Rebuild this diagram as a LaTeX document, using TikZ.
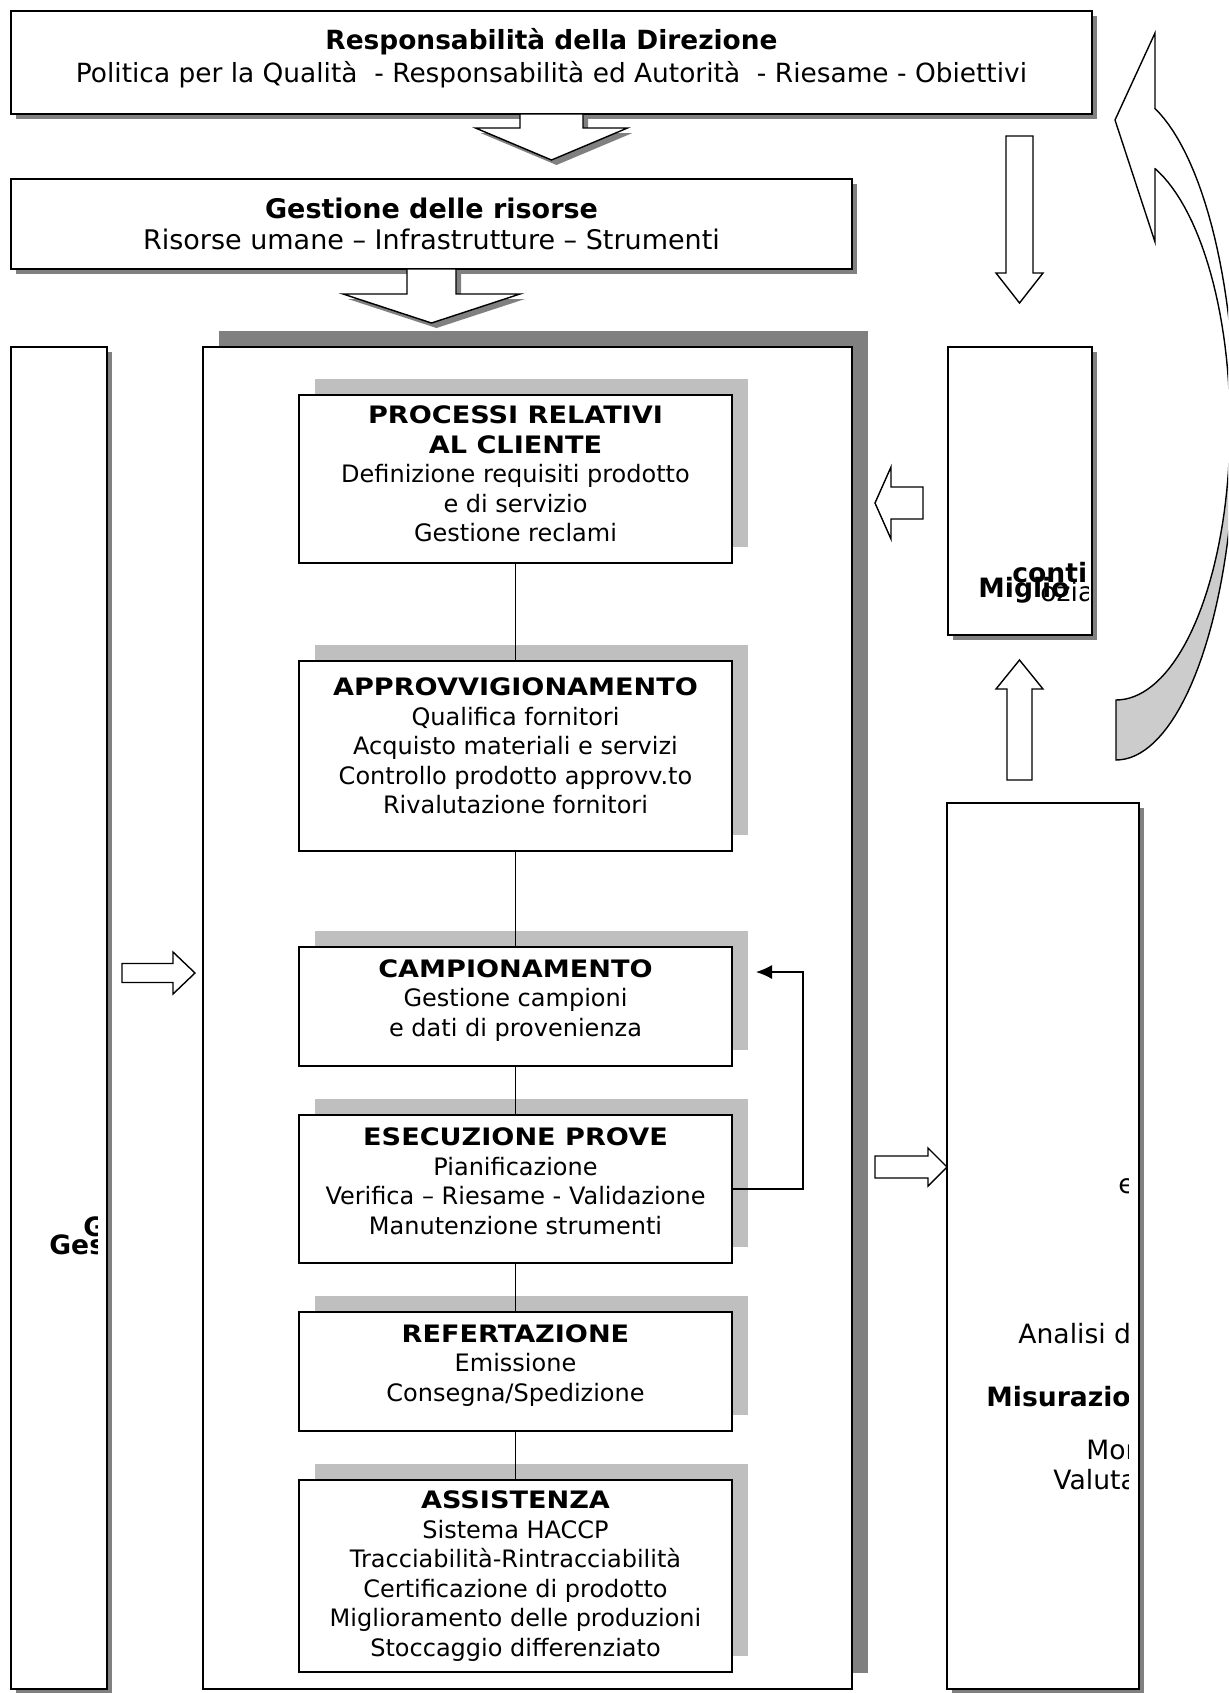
\documentclass[tikz,border=0pt]{standalone}
\usepackage{fontspec}
\setmainfont{DejaVu Sans}[BoldFeatures={FakeStretch=1.13}]
\newfontfamily\sidefont{DejaVu Sans}
\usetikzlibrary{positioning,shadows,arrows.meta}

\tikzset{
  boxshadow/.style={drop shadow={shadow xshift=2.5pt, shadow yshift=-2.5pt, fill=black!50, opacity=1}},
  outerbox/.style={draw, line width=1pt, fill=white, boxshadow, inner sep=0pt, outer sep=0pt},
  procbox/.style={draw, line width=1pt, fill=white, inner sep=0pt, outer sep=0pt,
    minimum width=216.5pt,
    drop shadow={shadow xshift=8pt, shadow yshift=8pt, fill=black!25, opacity=1}},
  boxtext/.style={align=center, inner sep=0pt},
  fatarrow/.style={draw, line width=0.7pt, fill=white},
  cliptext/.style={inner sep=0pt, anchor=west, font={\sidefont\fontsize{13.3}{16}\selectfont}}
}

% hollow block arrow: [style]{start}{rotation}{length}{shaft half width}{head half width}{head length}
\newcommand{\blockarrow}[7][]{%
  \draw[#1, shift={(#2)}, rotate=#3] (-#5,0) -- (-#5,{#4-#7}) -- (-#6,{#4-#7}) -- (0,#4)
    -- (#6,{#4-#7}) -- (#5,{#4-#7}) -- (#5,0) -- cycle;}

\begin{document}
\begin{tikzpicture}[
    x=0.5pt, y=-0.5pt,
    node distance=24.5pt,
    >={Latex[length=8pt,width=7pt]},
    font={\fontsize{12}{14.75}\selectfont}
    ]
\useasboundingbox (0,0) rectangle (1228,1693);

% direzione e risorse
\node[outerbox, minimum width=540.5pt, minimum height=51.5pt] (dir) at (551.5,62.5) {};
\node[boxtext, font={\sidefont\fontsize{13.2}{16.2}\selectfont}] (dirt) at ([yshift=2.2pt]dir.center)
  {\textbf{Responsabilità della Direzione}\\
   Politica per la Qualità\ \ - Responsabilità ed Autorità\ \ - Riesame - Obiettivi};
\node[outerbox, minimum width=420.5pt, minimum height=45pt] (risorse) at (431.5,224) {};
\node[boxtext, font={\sidefont\fontsize{13.5}{15.7}\selectfont}] (risorset) at (risorse.center)
  {\textbf{Gestione delle risorse}\\Risorse umane – Infrastrutture – Strumenti};

% colonne
\node[draw, line width=1pt, fill=white, outer sep=0pt, minimum width=324.5pt, minimum height=671pt,
  drop shadow={shadow xshift=8pt, shadow yshift=8pt, fill=black!50, opacity=1}] (main) at (527.5,1018) {};
\node[outerbox, minimum width=48pt, minimum height=671pt] (gest) at (59,1018) {};
\node[outerbox, minimum width=72pt, minimum height=144pt] (migl) at (1020,491) {};
\node[outerbox, minimum width=96pt, minimum height=443pt] (misur) at (1043,1246) {};

% processi
\node[procbox, minimum height=84pt] (proc) at (515.5,479) {};
\node[procbox, minimum height=95pt, below=49pt of proc] (appr) {};
\node[procbox, minimum height=59.5pt, below=48pt of appr] (camp) {};
\node[procbox, minimum height=74pt, below=of camp] (esec) {};
\node[procbox, minimum height=59.5pt, below=of esec] (ref) {};
\node[procbox, minimum height=96pt, below=of ref] (ass) {};

\node[boxtext] (proct) at ([yshift=2.5pt]proc.center)
  {\textbf{PROCESSI RELATIVI}\\\textbf{AL CLIENTE}\\Definizione requisiti prodotto\\e di servizio\\Gestione reclami};
\node[boxtext] (apprt) at ([yshift=5pt]appr.center)
  {\textbf{APPROVVIGIONAMENTO}\\Qualifica fornitori\\Acquisto materiali e servizi\\Controllo prodotto approvv.to\\Rivalutazione fornitori};
\node[boxtext] (campt) at ([yshift=3.2pt]camp.center)
  {\textbf{CAMPIONAMENTO}\\Gestione campioni\\e dati di provenienza};
\node[boxtext] (esect) at ([yshift=4pt]esec.center)
  {\textbf{ESECUZIONE PROVE}\\Pianificazione\\Verifica – Riesame - Validazione\\Manutenzione strumenti};
\node[boxtext] (reft) at ([yshift=3pt]ref.center)
  {\textbf{REFERTAZIONE}\\Emissione\\Consegna/Spedizione};
\node[boxtext] (asst) at (ass.center)
  {\textbf{ASSISTENZA}\\Sistema HACCP\\Tracciabilità-Rintracciabilità\\Certificazione di prodotto\\Miglioramento delle produzioni\\Stoccaggio differenziato};

\draw[line width=0.6pt] (proc) -- (appr);
\draw[line width=0.6pt] (appr) -- (camp);
\draw[line width=0.6pt] (camp) -- (esec);
\draw[line width=0.6pt] (esec) -- (ref);
\draw[line width=0.6pt] (ref) -- (ass);
\draw[->, line width=0.6pt] (esec.east) -- ++(71,0) |- ([xshift=12pt,yshift=17.25pt]camp.east);

% frecce
\coordinate (down) at (1019.5,136);
\coordinate (up) at (1019.5,780);
\coordinate (back) at (923,503);
\coordinate (in) at (122,973);
\coordinate (out) at (875,1167);
\blockarrow[fatarrow, boxshadow]{dir.south}{0}{46}{31.5}{76}{32}
\blockarrow[fatarrow, boxshadow]{risorse.south}{0}{54}{24.5}{88.5}{29}
\blockarrow[fatarrow]{down}{0}{167}{13.5}{23.5}{30}
\blockarrow[fatarrow]{up}{180}{120}{12.5}{23.5}{29}
\blockarrow[fatarrow]{back}{-90}{48}{16}{36}{16}
\blockarrow[fatarrow]{in}{90}{73}{9.5}{21}{22}
\blockarrow[fatarrow]{out}{90}{72}{11}{19}{19}

% freccia curva
\begin{scope}
  \clip (0,0) rectangle (1228,1693);
  \filldraw[fill=black!20, line width=0.7pt]
    plot[domain=0:90, samples=40] ({1116+114*cos(\x)},{426+274*sin(\x)})
    -- plot[domain=90:0, samples=40] ({1116+119*cos(\x)},{425+335*sin(\x)}) -- cycle;
  \filldraw[fill=white, line width=0.7pt]
    (1155,168) -- (1155,242) -- (1115,120) -- (1155,33) -- (1155,108)
    -- plot[domain=-70.9:0, samples=30] ({1116+119*cos(\x)},{425+335*sin(\x)})
    -- plot[domain=0:-70, samples=30] ({1116+114*cos(\x)},{426+274*sin(\x)}) -- cycle;
\end{scope}

% testi tagliati
\begin{scope}
  \clip (gest.south west) rectangle ([xshift=-5pt]gest.north east);
  \node[cliptext] (g1) at (83,1227) {\textbf{G}};
  \node[cliptext] (g2) at (49,1245) {\textbf{Ges}};
\end{scope}
\begin{scope}
  \clip (migl.south west) rectangle ([xshift=-2pt]migl.north east);
  \node[cliptext] (m1) at (1012,573) {\textbf{conti}};
  \node[cliptext] (m2) at (1040,592) {ozia};
  \node[cliptext] (m3) at (978,590) {\textbf{Miglio}};
\end{scope}
\begin{scope}
  \clip (misur.south west) rectangle ([xshift=-5.5pt]misur.north east);
  \node[cliptext] (s1) at (1118,1186) {e};
  \node[cliptext] (s2) at (1018,1334) {Analisi d};
  \node[cliptext] (s3) at (986,1397) {\textbf{Misurazio}};
  \node[cliptext] (s4) at (1086,1450) {Mon};
  \node[cliptext] (s5) at (1053,1480) {Valuta};
\end{scope}
\end{tikzpicture}
\end{document}
